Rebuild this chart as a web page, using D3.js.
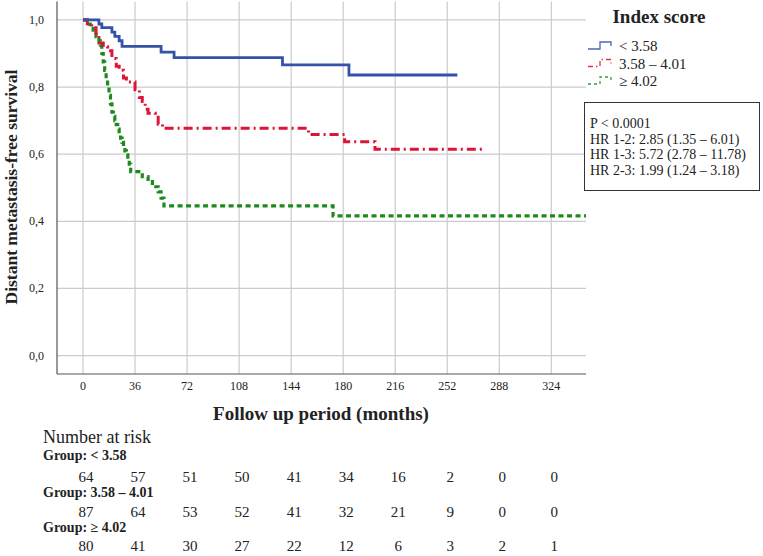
<!DOCTYPE html>
<html>
<head>
<meta charset="utf-8">
<script src="https://cdn.jsdelivr.net/npm/d3@7"></script>
<style>
  body { margin: 0; background: #fff; }
  text { font-family: "Liberation Serif", "DejaVu Serif", serif; fill: #222; }
</style>
</head>
<body>
<div id="myChart"></div>
<script>
// data
var xTicks = [0, 36, 72, 108, 144, 180, 216, 252, 288, 324];
var yTicks = [0, 0.2, 0.4, 0.6, 0.8, 1.0];
var groups = ["< 3.58", "3.58 \u2013 4.01", "\u2265 4.02"];

var blueT = [0, 11, 13, 20, 22, 25, 27, 54, 63, 138, 184];
var blueS = [1, 0.988, 0.977, 0.964, 0.951, 0.938, 0.921, 0.904, 0.888, 0.866, 0.836];
var blueEnd = 259;

var redT = [0, 3, 6, 9, 11, 14, 17, 20, 23, 25, 28, 30, 36, 39, 41, 43, 45, 50, 52, 55, 156, 181, 202];
var redS = [1, 0.989, 0.977, 0.954, 0.931, 0.92, 0.908, 0.885, 0.862, 0.85, 0.827, 0.815, 0.792, 0.769, 0.757, 0.734, 0.722, 0.71, 0.689, 0.677, 0.659, 0.637, 0.615];
var redEnd = 276;

var greenT = [0, 3, 5, 7, 9, 11, 12, 13, 14, 15, 16, 17, 18, 19, 20, 21, 22, 23, 24, 25, 26, 27, 28, 29, 30, 31, 32, 33, 41, 45, 48, 52, 54, 56, 173];
var greenS = [1, 0.988, 0.975, 0.963, 0.95, 0.938, 0.925, 0.9, 0.875, 0.85, 0.825, 0.8, 0.775, 0.75, 0.725, 0.713, 0.7, 0.688, 0.675, 0.66, 0.648, 0.635, 0.623, 0.61, 0.598, 0.585, 0.57, 0.548, 0.533, 0.518, 0.503, 0.488, 0.469, 0.446, 0.416];
var greenEnd = 348;

var atRisk1 = [64, 57, 51, 50, 41, 34, 16, 2, 0, 0];
var atRisk2 = [87, 64, 53, 52, 41, 32, 21, 9, 0, 0];
var atRisk3 = [80, 41, 30, 27, 22, 12, 6, 3, 2, 1];

var statLines = ["P < 0.0001", "HR 1-2: 2.85 (1.35 \u2013 6.01)", "HR 1-3: 5.72 (2.78 \u2013 11.78)", "HR 2-3: 1.99 (1.24 \u2013 3.18)"];

var svg = d3.select("#myChart")
    .append("svg")
    .attr("width", 763).attr("height", 556);

var x = d3.scaleLinear().domain([-18, 348]).range([57, 586]);
var y = d3.scaleLinear().domain([-0.055, 1.055]).range([374, 1.5]);

//grid
svg.selectAll(".vg").data(xTicks).enter().append("line")
    .attr("x1", d => x(d)).attr("x2", d => x(d))
    .attr("y1", 1.5).attr("y2", 374)
    .attr("stroke", "#cbcbcb").attr("stroke-width", 1.2);
svg.selectAll(".hg").data(yTicks).enter().append("line")
    .attr("x1", 57).attr("x2", 586)
    .attr("y1", d => y(d)).attr("y2", d => y(d))
    .attr("stroke", "#cbcbcb").attr("stroke-width", 1.2);

//axes lines
svg.append("line").attr("x1", 57).attr("x2", 57).attr("y1", 1.5).attr("y2", 374)
    .attr("stroke", "#555").attr("stroke-width", 1.2);
svg.append("line").attr("x1", 57).attr("x2", 586).attr("y1", 374).attr("y2", 374)
    .attr("stroke", "#555").attr("stroke-width", 1.2);

//tick labels
svg.selectAll(".xt").data(xTicks).enter().append("text")
    .attr("x", d => x(d)).attr("y", 390)
    .attr("text-anchor", "middle")
    .style("font-size", "12px")
    .text(d => d);
svg.selectAll(".yt").data(yTicks).enter().append("text")
    .attr("x", 44).attr("y", d => y(d) + 4)
    .attr("text-anchor", "end")
    .style("font-size", "12px")
    .text(d => d3.format(".1f")(d).replace(".", ","));

//titles
svg.append("text")
    .attr("transform", "translate(17, 187) rotate(-90)")
    .attr("text-anchor", "middle")
    .style("font-size", "17.5px").style("font-weight", "bold")
    .text("Distant metastasis-free survival");
svg.append("text")
    .attr("x", 321).attr("y", 420)
    .attr("text-anchor", "middle")
    .style("font-size", "19px").style("font-weight", "bold")
    .text("Follow up period (months)");

//curves
var line = d3.line()
    .x(d => x(d[0])).y(d => y(d[1]))
    .curve(d3.curveStepAfter);

function pts(T, S, end) {
    var p = T.map((t, i) => [t, S[i]]);
    p.push([end, S[S.length - 1]]);
    return p;
}

svg.append("path").datum(pts(greenT, greenS, greenEnd))
    .attr("d", line).attr("fill", "none")
    .attr("stroke", "#1e8a1e").attr("stroke-width", 3.2)
    .attr("stroke-dasharray", "5,3.5");
svg.append("path").datum(pts(redT, redS, redEnd))
    .attr("d", line).attr("fill", "none")
    .attr("stroke", "#dc1438").attr("stroke-width", 3)
    .attr("stroke-dasharray", "9,4,2,4");
svg.append("path").datum(pts(blueT, blueS, blueEnd))
    .attr("d", line).attr("fill", "none")
    .attr("stroke", "#3552a8").attr("stroke-width", 2.8);

//legend
svg.append("text")
    .attr("x", 659).attr("y", 23)
    .attr("text-anchor", "middle")
    .style("font-size", "19px").style("font-weight", "bold")
    .text("Index score");

var legColors = ["#4a68b8", "#e03050", "#3a9a3a"];
var legDash = ["none", "5,3,1.5,3", "3,3"];
var legend = svg.selectAll(".leg").data(groups).enter().append("g")
    .attr("transform", (d, i) => "translate(588," + (46 + i * 17.5) + ")");
legend.append("path")
    .attr("d", "M0,3H12V-4H23V0")
    .attr("fill", "none")
    .attr("stroke", (d, i) => legColors[i])
    .attr("stroke-width", 1.3)
    .attr("stroke-dasharray", (d, i) => legDash[i]);
legend.append("text")
    .attr("x", 31).attr("y", 5)
    .style("font-size", "15px")
    .text(d => d);

//stats box
svg.append("rect")
    .attr("x", 584.5).attr("y", 102.5)
    .attr("width", 175).attr("height", 88)
    .attr("fill", "#fff").attr("stroke", "#333").attr("stroke-width", 1);
svg.selectAll(".st").data(statLines).enter().append("text")
    .attr("x", 590).attr("y", (d, i) => 128 + i * 15.5)
    .style("font-size", "14px")
    .text(d => d);

//number at risk
svg.append("text")
    .attr("x", 43).attr("y", 443)
    .style("font-size", "18px")
    .text("Number at risk");

var risk = [atRisk1, atRisk2, atRisk3];
var groupY = [460, 497, 532];
var rowY = [482, 517, 551];
risk.forEach(function(row, g) {
    svg.append("text")
        .attr("x", 43).attr("y", groupY[g])
        .style("font-size", "14px").style("font-weight", "bold")
        .text("Group: " + groups[g]);
    svg.selectAll(".r" + g).data(row).enter().append("text")
        .attr("x", (d, i) => x(xTicks[i]) + 3)
        .attr("y", rowY[g])
        .attr("text-anchor", "middle")
        .style("font-size", "15px")
        .text(d => d);
});
</script>
</body>
</html>
